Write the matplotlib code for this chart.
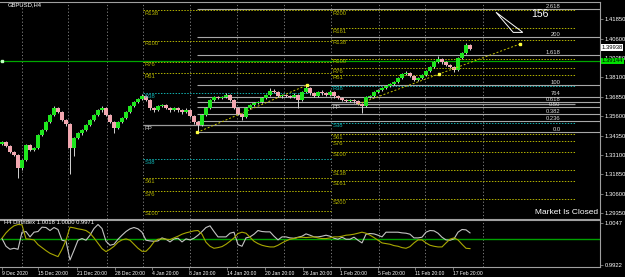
import numpy as np
import matplotlib.pyplot as plt
from matplotlib.patches import Polygon

plt.rcParams["font.family"] = ["Liberation Sans", "DejaVu Sans"]

# ---------------- data ----------------
symbol = "GBPUSD,H4"

opens = [1.3380, 1.3393, 1.3367, 1.3328, 1.3309, 1.3225, 1.3276, 1.3373, 1.3341, 1.3354,
         1.3438, 1.3470, 1.3522, 1.3567, 1.3612, 1.3586, 1.3535, 1.3509, 1.3354, 1.3419,
         1.3451, 1.3470, 1.3503, 1.3535, 1.3567, 1.3599, 1.3612, 1.3567, 1.3522, 1.3483,
         1.3522, 1.3548, 1.3586, 1.3625, 1.3651, 1.3670, 1.3690, 1.3664, 1.3612, 1.3599,
         1.3625, 1.3632, 1.3612, 1.3599, 1.3612, 1.3599, 1.3586, 1.3599, 1.3561, 1.3522,
         1.3503, 1.3567, 1.3612, 1.3664, 1.3683, 1.3677, 1.3683, 1.3696, 1.3664, 1.3612,
         1.3574, 1.3554, 1.3612, 1.3632, 1.3645, 1.3651, 1.3677, 1.3696, 1.3722, 1.3716,
         1.3690, 1.3696, 1.3690, 1.3683, 1.3696, 1.3664, 1.3716, 1.3742, 1.3709, 1.3690,
         1.3716, 1.3709, 1.3696, 1.3716, 1.3690, 1.3677, 1.3664, 1.3658, 1.3664, 1.3658,
         1.3638, 1.3625, 1.3683, 1.3690, 1.3716, 1.3729, 1.3742, 1.3754, 1.3767, 1.3780,
         1.3806, 1.3832, 1.3838, 1.3819, 1.3793, 1.3806, 1.3826, 1.3851, 1.3877, 1.3909,
         1.3929, 1.3909, 1.3890, 1.3877, 1.3858, 1.3935, 1.3968, 1.4019]
highs = [1.3402, 1.3400, 1.3374, 1.3335, 1.3314, 1.3284, 1.3382, 1.3380, 1.3362, 1.3445,
         1.3478, 1.3530, 1.3575, 1.3625, 1.3620, 1.3592, 1.3542, 1.3515, 1.3428, 1.3460,
         1.3480, 1.3512, 1.3543, 1.3575, 1.3607, 1.3625, 1.3618, 1.3574, 1.3530, 1.3530,
         1.3556, 1.3594, 1.3633, 1.3660, 1.3680, 1.3705, 1.3698, 1.3670, 1.3620, 1.3633,
         1.3642, 1.3640, 1.3618, 1.3620, 1.3618, 1.3606, 1.3610, 1.3605, 1.3568, 1.3530,
         1.3575, 1.3620, 1.3672, 1.3692, 1.3690, 1.3692, 1.3710, 1.3702, 1.3670, 1.3618,
         1.3580, 1.3620, 1.3640, 1.3653, 1.3660, 1.3685, 1.3704, 1.3742, 1.3735, 1.3722,
         1.3705, 1.3703, 1.3698, 1.3708, 1.3702, 1.3724, 1.3755, 1.3748, 1.3716, 1.3724,
         1.3730, 1.3716, 1.3730, 1.3722, 1.3696, 1.3684, 1.3672, 1.3672, 1.3670, 1.3664,
         1.3645, 1.3692, 1.3700, 1.3724, 1.3738, 1.3750, 1.3762, 1.3775, 1.3790, 1.3815,
         1.3842, 1.3850, 1.3845, 1.3825, 1.3814, 1.3834, 1.3860, 1.3885, 1.3918, 1.3950,
         1.3936, 1.3915, 1.3897, 1.3884, 1.3942, 1.3976, 1.4030, 1.4026]
lows = [1.3372, 1.3360, 1.3320, 1.3300, 1.3160, 1.3215, 1.3270, 1.3333, 1.3335, 1.3348,
        1.3430, 1.3462, 1.3515, 1.3560, 1.3578, 1.3527, 1.3500, 1.3190, 1.3300, 1.3410,
        1.3440, 1.3462, 1.3495, 1.3528, 1.3560, 1.3590, 1.3560, 1.3515, 1.3450, 1.3476,
        1.3515, 1.3540, 1.3578, 1.3618, 1.3644, 1.3662, 1.3656, 1.3600, 1.3585, 1.3592,
        1.3618, 1.3604, 1.3590, 1.3592, 1.3590, 1.3575, 1.3580, 1.3552, 1.3512, 1.3455,
        1.3495, 1.3560, 1.3605, 1.3656, 1.3668, 1.3670, 1.3676, 1.3656, 1.3604, 1.3565,
        1.3535, 1.3548, 1.3605, 1.3625, 1.3638, 1.3645, 1.3670, 1.3690, 1.3708, 1.3682,
        1.3680, 1.3682, 1.3675, 1.3676, 1.3612, 1.3658, 1.3708, 1.3700, 1.3682, 1.3684,
        1.3700, 1.3688, 1.3690, 1.3680, 1.3668, 1.3655, 1.3650, 1.3650, 1.3648, 1.3630,
        1.3580, 1.3618, 1.3675, 1.3684, 1.3708, 1.3722, 1.3735, 1.3748, 1.3760, 1.3773,
        1.3800, 1.3825, 1.3812, 1.3785, 1.3787, 1.3800, 1.3820, 1.3845, 1.3870, 1.3902,
        1.3900, 1.3882, 1.3868, 1.3845, 1.3850, 1.3928, 1.3960, 1.3988]
closes = [1.3393, 1.3367, 1.3328, 1.3309, 1.3225, 1.3276, 1.3373, 1.3341, 1.3354, 1.3438,
          1.3470, 1.3522, 1.3567, 1.3612, 1.3586, 1.3535, 1.3509, 1.3354, 1.3419, 1.3451,
          1.3470, 1.3503, 1.3535, 1.3567, 1.3599, 1.3612, 1.3567, 1.3522, 1.3483, 1.3522,
          1.3548, 1.3586, 1.3625, 1.3651, 1.3670, 1.3690, 1.3664, 1.3612, 1.3599, 1.3625,
          1.3632, 1.3612, 1.3599, 1.3612, 1.3599, 1.3586, 1.3599, 1.3561, 1.3522, 1.3503,
          1.3567, 1.3612, 1.3664, 1.3683, 1.3677, 1.3683, 1.3696, 1.3664, 1.3612, 1.3574,
          1.3554, 1.3612, 1.3632, 1.3645, 1.3651, 1.3677, 1.3696, 1.3722, 1.3716, 1.3690,
          1.3696, 1.3690, 1.3683, 1.3696, 1.3664, 1.3716, 1.3742, 1.3709, 1.3690, 1.3716,
          1.3709, 1.3696, 1.3716, 1.3690, 1.3677, 1.3664, 1.3658, 1.3664, 1.3658, 1.3638,
          1.3625, 1.3683, 1.3690, 1.3716, 1.3729, 1.3742, 1.3754, 1.3767, 1.3780, 1.3806,
          1.3832, 1.3838, 1.3819, 1.3793, 1.3806, 1.3826, 1.3851, 1.3877, 1.3909, 1.3929,
          1.3909, 1.3890, 1.3877, 1.3858, 1.3935, 1.3968, 1.4019, 1.3994]

# DirIndex sub-window (two lines around 1.0)
dir_fast = [1.0001, 0.9978, 0.9969, 0.9972, 0.9969, 1.0020, 1.0022, 1.0006, 1.0020, 1.0022,
            1.0035, 1.0034, 1.0025, 1.0034, 1.0028, 0.9996, 0.9993, 0.9937, 0.9966, 0.9996,
            1.0001, 0.9996, 1.0011, 1.0031, 1.0043, 1.0031, 0.9993, 0.9981, 0.9984, 0.9999,
            1.0011, 1.0022, 1.0030, 1.0034, 1.0030, 1.0020, 0.9996, 0.9994, 0.9993, 0.9994,
            1.0003, 0.9999, 0.9991, 1.0000, 1.0002, 0.9991, 1.0000, 0.9997, 1.0002, 1.0011,
            1.0022, 1.0034, 1.0039, 1.0022, 1.0006, 1.0006, 1.0006, 1.0017, 1.0020, 0.9983,
            0.9978, 1.0003, 1.0006, 1.0014, 1.0025, 1.0022, 1.0021, 1.0021, 1.0008, 0.9997,
            1.0006, 1.0006, 1.0003, 1.0002, 1.0005, 1.0008, 1.0015, 1.0011, 1.0006, 1.0006,
            1.0008, 1.0011, 1.0008, 1.0002, 0.9999, 1.0005, 0.9999, 0.9999, 1.0005, 0.9996,
            0.9988, 1.0014, 1.0016, 1.0015, 1.0011, 1.0006, 1.0020, 1.0020, 1.0020, 1.0020,
            1.0018, 1.0017, 1.0014, 1.0003, 1.0003, 1.0005, 1.0020, 1.0025, 1.0024, 1.0017,
            1.0005, 0.9997, 0.9996, 1.0000, 1.0020, 1.0028, 1.0027, 1.0018]
dir_slow = [1.0002, 1.0018, 1.0030, 1.0039, 1.0043, 1.0042, 1.0000, 0.9999, 0.9997, 0.9983,
            0.9974, 0.9965, 0.9957, 0.9952, 0.9947, 0.9969, 0.9996, 1.0035, 1.0033, 1.0030,
            1.0028, 1.0025, 1.0017, 1.0003, 0.9987, 0.9971, 0.9962, 0.9969, 0.9978, 0.9990,
            0.9997, 1.0000, 0.9996, 0.9984, 0.9972, 0.9963, 0.9963, 0.9975, 0.9991, 0.9999,
            1.0000, 0.9999, 0.9998, 1.0003, 1.0008, 1.0014, 1.0018, 1.0021, 1.0024, 1.0025,
            1.0014, 0.9990, 0.9978, 0.9972, 0.9974, 0.9977, 0.9984, 0.9993, 1.0003, 1.0016,
            1.0020, 1.0017, 1.0005, 0.9993, 0.9986, 0.9981, 0.9978, 0.9976, 0.9976, 0.9981,
            0.9988, 0.9994, 0.9999, 1.0001, 1.0004, 1.0005, 1.0004, 1.0005, 1.0006, 1.0003,
            1.0001, 1.0001, 1.0003, 1.0006, 1.0006, 1.0008, 1.0011, 1.0012, 1.0014, 1.0017,
            1.0020, 1.0017, 1.0011, 1.0004, 0.9996, 0.9988, 0.9986, 0.9984, 0.9980, 0.9978,
            0.9974, 0.9972, 0.9977, 0.9988, 0.9997, 0.9997, 0.9988, 0.9981, 0.9978, 0.9976,
            0.9976, 0.9988, 0.9999, 1.0003, 0.9997, 0.9984, 0.9972, 0.9971]
dir_title = "H4 DirIndex 1.0018 1.0000 0.9971"

# time axis (bar index units)
date_ticks = [0, 9, 18.75, 28.25, 37.5, 46.75, 56.25, 65.75, 75.25, 84.5, 94, 103.25, 112.75]
date_labels = ["9 Dec 2020", "15 Dec 20:00", "21 Dec 20:00", "28 Dec 20:00", "4 Jan 20:00",
               "8 Jan 20:00", "14 Jan 20:00", "20 Jan 20:00", "26 Jan 20:00", "1 Feb 20:00",
               "5 Feb 20:00", "11 Feb 20:00", "17 Feb 20:00"]
week_starts = [4.9, 16.6, 26.2, 35.3, 47, 58.75, 70.5, 82.25, 94.25, 105.75, 120.2]

price_ticks = [1.41850, 1.40600, 1.39350, 1.38100, 1.36850, 1.35600, 1.34350,
               1.33100, 1.31850, 1.30600, 1.29350]
dir_ticks = [1.0047, 0.9922]

# monthly pivots (January block, February block)
jan_names = ["R138", "R100", "R76", "R61", "R38", "PP", "S38", "S61", "S76", "S100"]
jan_levels = [1.4245, 1.4047, 1.3911, 1.3836, 1.3707, 1.3503, 1.3281, 1.3158, 1.3076, 1.2949]
jan_span = (35.25, 82.25)
feb_names = ["R200", "R161", "R138", "R100", "R76", "R61", "R38", "PP",
             "S38", "S61", "S76", "S100", "S138", "S161", "S200"]
feb_levels = [1.4245, 1.4127, 1.4055, 1.3932, 1.3868, 1.3826, 1.3755, 1.3638,
              1.3519, 1.3444, 1.3400, 1.3330, 1.3212, 1.3143, 1.3024]
feb_span = (82.25, 143.25)

# fibonacci object
fib_names = ["2.618", "200", "1.618", "100", "764", "0.618", "0.50", "0.382", "0.236", "0.0"]
fib_levels = [1.4250, 1.4069, 1.3955, 1.3761, 1.3685, 1.3649, 1.3617, 1.3572, 1.3528, 1.3455]
fib_anchor = ([48.75, 76.25], [1.3455, 1.3761])
trend_anchor = ([89.0, 109.25, 129.5], [1.3638, 1.3832, 1.4026])
hline_price = 1.39144
last_price = 1.39938

# ---------------- figure ----------------
W, H = 625, 277
BG = "black"
GRID = "#8c8c8c"
OLIVE = "#b4b400"
CYAN = "#10b0b0"
BULL = "#1ee61e"
BEAR = "#f2a7b0"
FS_AXIS = 4.2
FS_SMALL = 4.2


def fy(px):
    return 1 - px / H


fig = plt.figure(figsize=(W / 100, H / 100), dpi=100, facecolor=BG)
ax = fig.add_axes([0, fy(218.5), 600 / W, (218.5 - 2) / H], facecolor=BG)
ai = fig.add_axes([0, fy(266.7), 600 / W, (266.7 - 219.5) / H], facecolor=BG)

for a in (ax, ai):
    a.set_xlim(-0.5, 149.5)
    a.spines["left"].set_visible(False)
    for side in ("right", "top", "bottom"):
        a.spines[side].set_color("#a0a0a0")
        a.spines[side].set_linewidth(0.8)
    a.yaxis.tick_right()
    a.tick_params(axis="y", colors="#a0a0a0", labelcolor="white", labelsize=FS_AXIS,
                  length=2, width=0.5, pad=1.2)
    for w in week_starts:
        a.axvline(w, color=GRID, lw=0.6, ls=(0, (1.5, 2.5)), zorder=1)

ax.set_ylim(1.28998, 1.42971)
ax.set_yticks(price_ticks)
ax.set_yticklabels([f"{p:.5f}" for p in price_ticks])
ax.set_xticks([])


# pivots
def draw_pivots(names, levels, span):
    for name, lev in zip(names, levels):
        if name == "PP":
            col, ls, lw = "#9a9a9a", "-", 0.9
        elif name in ("R38", "S38"):
            col, ls, lw = CYAN, (0, (1.5, 1.5)), 0.7
        else:
            col, ls, lw = OLIVE, (0, (1.5, 1.5)), 0.7
        ax.hlines(lev, span[0], span[1], colors=col, linestyles=ls, lw=lw, zorder=2)
        ax.text(span[0] + 0.4, lev - 0.0003, name, color=col if name != "PP" else "#d0d0d0",
                fontsize=FS_SMALL, va="top", ha="left", zorder=6)


draw_pivots(jan_names, jan_levels, jan_span)
draw_pivots(feb_names, feb_levels, feb_span)

# fibonacci levels
ax.hlines(fib_levels, fib_anchor[0][0], 149.5, colors="#a8a8a8", lw=0.8, zorder=2)
for name, lev in zip(fib_names, fib_levels):
    ax.text(139.6, lev + 0.0003, name, color="#d8d8d8", fontsize=FS_SMALL, ha="right",
            va="bottom", zorder=6)
ax.plot(fib_anchor[0], fib_anchor[1], color="#c8c800", lw=0.7, ls=(0, (2, 2)), zorder=3)
ax.plot(fib_anchor[0], fib_anchor[1], "s", color="#ffff40", ms=1.8, zorder=7)

# horizontal line
ax.axhline(hline_price, color="#00a800", lw=0.9, zorder=2)
ax.plot([0.0], [hline_price], "s", color="#c0ffc0", ms=2, zorder=7)

# candles
x = np.arange(len(closes))
o = np.array(opens)
c = np.array(closes)
up = c >= o
ax.vlines(x, lows, highs, colors="#d4d4d4", lw=0.7, zorder=4)
body_lo = np.minimum(o, c)
body_h = np.maximum(np.abs(c - o), 0.00025)
ax.bar(x[up], body_h[up], bottom=body_lo[up], width=0.78, color=BULL, lw=0, zorder=5)
ax.bar(x[~up], body_h[~up], bottom=body_lo[~up], width=0.78, color=BEAR, lw=0, zorder=5)

# trend line
ax.plot([trend_anchor[0][0], trend_anchor[0][-1]], [trend_anchor[1][0], trend_anchor[1][-1]],
        color="#c8c800", lw=0.7, ls=(0, (2, 2)), zorder=6)
ax.plot(trend_anchor[0][1:], trend_anchor[1][1:], "s", color="#ffff40", ms=1.8, zorder=7)

# wave count annotation
ax.text(134.5, 1.4222, "156", color="white", fontsize=7.5, ha="center", va="center", zorder=8)
ax.add_patch(Polygon([[123.5, 1.4231], [130.2, 1.4101], [127.8, 1.4101]], closed=True,
                     fill=False, edgecolor="white", lw=0.7, zorder=8))

ax.text(149.0, 1.2913, "Market Is Closed", color="white", fontsize=6.0, ha="right",
        va="bottom", zorder=8)
ax.text(1.5, 1.4282, symbol, color="white", fontsize=FS_SMALL, ha="left", va="center", zorder=8)

# price boxes on the scale
fig.text(601.5 / W, fy(61), f"{hline_price:.5f}", fontsize=FS_AXIS, color="black",
         va="center", ha="left", bbox=dict(boxstyle="square,pad=0.12", fc="#00e000", ec="none"))
fig.text(601.5 / W, fy(47.7), f"{last_price:.5f}", fontsize=FS_AXIS, color="black",
         va="center", ha="left", bbox=dict(boxstyle="square,pad=0.12", fc="white", ec="none"))

# indicator window
ai.set_ylim(0.99170, 1.00579)
ai.set_yticks(dir_ticks)
ai.set_yticklabels([f"{v:.4f}" for v in dir_ticks])
ai.axhline(1.0, color="#00a000", lw=1.0, zorder=2)
ai.plot(x, dir_fast, color="#c4c4c4", lw=0.8, zorder=3)
ai.plot(x, dir_slow, color="#a8a800", lw=0.8, zorder=3)
ai.text(0.5, 1.0050, dir_title, color="white", fontsize=FS_SMALL, ha="left", va="center")
ai.set_xticks(date_ticks)
ai.set_xticklabels(date_labels)
ai.tick_params(axis="x", colors="#a0a0a0", labelcolor="white", labelsize=3.6,
               length=2, width=0.5, pad=1)
for lab in ai.get_xticklabels():
    lab.set_ha("left")

fig.savefig("out.png", dpi=100, facecolor=BG)
